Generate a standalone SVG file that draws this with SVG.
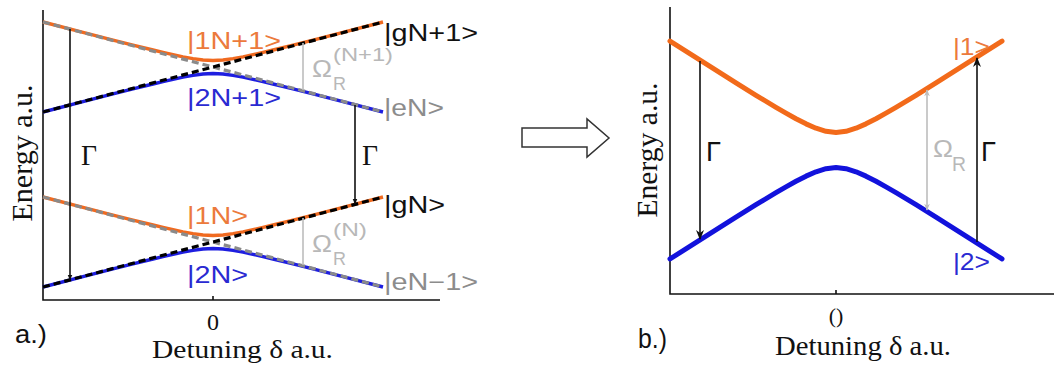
<svg xmlns="http://www.w3.org/2000/svg" xmlns:xlink="http://www.w3.org/1999/xlink" width="1054" height="367" viewBox="0 0 1054 367">
<style>
.axis{stroke:#111;stroke-width:1.6;fill:none}
.orA{stroke:#f06a20;stroke-width:3.4;fill:none;stroke-linejoin:round}
.blA{stroke:#1e1ee0;stroke-width:3.4;fill:none;stroke-linejoin:round}
.orB{stroke:#f26a1a;stroke-width:5;fill:none;stroke-linejoin:round;stroke-linecap:round}
.blB{stroke:#1212dc;stroke-width:5;fill:none;stroke-linejoin:round;stroke-linecap:round}
.dg{stroke:#8a8a8a;stroke-width:3.2;stroke-dasharray:7 4;fill:none}
.dk{stroke:#000;stroke-width:3.2;stroke-dasharray:7 4;fill:none}
.sans{font-family:"Liberation Sans",Arial,sans-serif}
.serif{font-family:"Liberation Serif","Times New Roman",serif}
.lo{fill:#ec7a3c}
.lb{fill:#2a2ad2}
.lk{fill:#111}
.lg{fill:#8c8c8c}
.lr{fill:#b8b8b8}
.gam{stroke:#111;stroke-width:1.6;fill:none}
.om{stroke:#bdbdbd;stroke-width:1.6;fill:none}
</style>
<defs>
<path id="hypA" d="M43,-44.98 L83,-34.65 L113,-26.97 L133,-21.93 L153,-17 L163,-14.62 L173,-12.33 L183,-10.19 L193,-8.35 L203,-7.01 L213,-6.5 L223,-7.01 L233,-8.35 L243,-10.19 L253,-12.33 L263,-14.62 L273,-17 L293,-21.93 L313,-26.97 L343,-34.65 L383,-44.98"/>
<path id="hypB" d="M670,-108.98 L706,-86.04 L736,-67.12 L756,-54.72 L776,-42.64 L786,-36.83 L796,-31.27 L806,-26.16 L816,-21.78 L826,-18.66 L836,-17.5 L846,-18.66 L856,-21.78 L866,-26.16 L876,-31.27 L886,-36.83 L896,-42.64 L916,-54.72 L936,-67.12 L966,-86.04 L1002,-108.98"/>
<marker id="ahK" viewBox="0 0 10 10" refX="9" refY="5" markerWidth="10" markerHeight="10" markerUnits="userSpaceOnUse" orient="auto">
<path d="M0,1 L10,5 L0,9 L3,5 Z" fill="#111"/>
</marker>
<marker id="ahS" viewBox="0 0 10 10" refX="9" refY="5" markerWidth="6" markerHeight="6" markerUnits="userSpaceOnUse" orient="auto">
<path d="M0,1 L10,5 L0,9 Z" fill="#111"/>
</marker>
<marker id="ahG" viewBox="0 0 10 10" refX="9" refY="5" markerWidth="7" markerHeight="7" markerUnits="userSpaceOnUse" orient="auto-start-reverse">
<path d="M0,1 L10,5 L0,9 L3,5 Z" fill="#bdbdbd"/>
</marker>
</defs>

<g id="panel-a-axes">
<path class="axis" d="M43,10 V300 H440"/>
<path class="axis" d="M213,300 V296"/>
<text class="serif lk" x="213" y="330" font-size="24" text-anchor="middle">0</text>
<text class="serif lk" x="152" y="358" font-size="26" textLength="181" lengthAdjust="spacingAndGlyphs">Detuning δ a.u.</text>
<text class="serif lk" font-size="30" text-anchor="middle" textLength="137" lengthAdjust="spacingAndGlyphs" transform="translate(32,153) rotate(-90)">Energy a.u.</text>
<text class="sans lk" x="15" y="343" font-size="26" textLength="32" lengthAdjust="spacingAndGlyphs">a.)</text>
</g>

<g id="panel-a-upper">
<use xlink:href="#hypA" class="orA" transform="translate(0,67)"/>
<use xlink:href="#hypA" class="blA" transform="translate(0,67) scale(1,-1)"/>
<line class="dg" x1="43" y1="22" x2="383" y2="112"/>
<line class="dk" x1="43" y1="112" x2="383" y2="22"/>
</g>
<g id="panel-a-lower">
<use xlink:href="#hypA" class="orA" transform="translate(0,242)"/>
<use xlink:href="#hypA" class="blA" transform="translate(0,242) scale(1,-1)"/>
<line class="dg" x1="43" y1="197" x2="383" y2="287"/>
<line class="dk" x1="43" y1="287" x2="383" y2="197"/>
</g>

<g id="label-1N1"><text class="sans lo" x="187" y="49" font-size="23" textLength="94" lengthAdjust="spacingAndGlyphs">|1N+1&gt;</text></g>
<g id="label-2N1"><text class="sans lb" x="187" y="106" font-size="23" textLength="94" lengthAdjust="spacingAndGlyphs">|2N+1&gt;</text></g>
<g id="label-1N"><text class="sans lo" x="187" y="224" font-size="23" textLength="61" lengthAdjust="spacingAndGlyphs">|1N&gt;</text></g>
<g id="label-2N"><text class="sans lb" x="187" y="283" font-size="23" textLength="61" lengthAdjust="spacingAndGlyphs">|2N&gt;</text></g>
<g id="label-gN1"><text class="sans lk" x="384" y="41" font-size="23" textLength="94" lengthAdjust="spacingAndGlyphs">|gN+1&gt;</text></g>
<g id="label-eN"><text class="sans lg" x="384" y="116" font-size="23" textLength="60" lengthAdjust="spacingAndGlyphs">|eN&gt;</text></g>
<g id="label-gN"><text class="sans lk" x="384" y="213" font-size="23" textLength="61" lengthAdjust="spacingAndGlyphs">|gN&gt;</text></g>
<g id="label-eN-1"><text class="sans lg" x="384" y="290" font-size="23" textLength="94" lengthAdjust="spacingAndGlyphs">|eN−1&gt;</text></g>

<g id="label-omega-N1">
<text class="sans lr" x="312" y="77" font-size="23" textLength="20" lengthAdjust="spacingAndGlyphs">Ω</text>
<text class="sans lr" x="333" y="90" font-size="19" textLength="13" lengthAdjust="spacingAndGlyphs">R</text>
<text class="sans lr" x="333" y="61" font-size="18" textLength="60" lengthAdjust="spacingAndGlyphs">(N+1)</text>
</g>
<g id="label-omega-N">
<text class="sans lr" x="312" y="252" font-size="23" textLength="20" lengthAdjust="spacingAndGlyphs">Ω</text>
<text class="sans lr" x="333" y="265" font-size="19" textLength="13" lengthAdjust="spacingAndGlyphs">R</text>
<text class="sans lr" x="333" y="236" font-size="18" textLength="34" lengthAdjust="spacingAndGlyphs">(N)</text>
</g>
<g id="label-gamma-a1"><text class="serif lk" x="81" y="165" font-size="30" textLength="16" lengthAdjust="spacingAndGlyphs">Γ</text></g>
<g id="label-gamma-a2"><text class="serif lk" x="362" y="165" font-size="30" textLength="16" lengthAdjust="spacingAndGlyphs">Γ</text></g>

<g id="arrow-between">
<polygon points="522,128 587,128 587,119 609,138 587,157 587,147 522,147" fill="#fff" stroke="#333" stroke-width="1.5" stroke-linejoin="miter"/>
</g>

<g id="panel-b-axes">
<path class="axis" d="M670,7 V294 H1054"/>
<path class="axis" d="M836,294 V290"/>
<text class="serif lk" x="836" y="323" font-size="22" text-anchor="middle">()</text>
<text class="serif lk" x="775" y="355" font-size="27" textLength="176" lengthAdjust="spacingAndGlyphs">Detuning δ a.u.</text>
<text class="serif lk" font-size="30" text-anchor="middle" textLength="135" lengthAdjust="spacingAndGlyphs" transform="translate(657,150) rotate(-90)">Energy a.u.</text>
<text class="sans lk" x="638" y="348" font-size="27" textLength="29" lengthAdjust="spacingAndGlyphs">b.)</text>
</g>
<g id="panel-b-curves">
<use xlink:href="#hypB" class="orB" transform="translate(0,150)"/>
<use xlink:href="#hypB" class="blB" transform="translate(0,150) scale(1,-1)"/>
</g>
<g id="label-1"><text class="sans lo" x="953" y="55" font-size="24" textLength="37" lengthAdjust="spacingAndGlyphs">|1&gt;</text></g>
<g id="label-2"><text class="sans lb" x="953" y="270" font-size="24" textLength="37" lengthAdjust="spacingAndGlyphs">|2&gt;</text></g>
<g id="label-gamma-b1"><text class="sans lk" x="706" y="161" font-size="28" textLength="15" lengthAdjust="spacingAndGlyphs">Γ</text></g>
<g id="label-gamma-b2"><text class="sans lk" x="981" y="161" font-size="28" textLength="15" lengthAdjust="spacingAndGlyphs">Γ</text></g>
<g id="label-omega-b">
<text class="sans lr" x="933" y="157" font-size="24" textLength="20" lengthAdjust="spacingAndGlyphs">Ω</text>
<text class="sans lr" x="952" y="171" font-size="20" textLength="14" lengthAdjust="spacingAndGlyphs">R</text>
</g>

<g id="connectors">
<line class="gam" x1="70" y1="29" x2="70" y2="280" marker-end="url(#ahS)"/>
<line class="gam" x1="355" y1="105" x2="355" y2="204" marker-end="url(#ahS)"/>
<line class="om" x1="303" y1="43" x2="303" y2="90"/>
<line class="om" x1="303" y1="218" x2="303" y2="265"/>
<line class="gam" x1="700" y1="61" x2="700" y2="239" marker-end="url(#ahK)"/>
<line class="gam" x1="977" y1="242" x2="977" y2="58" marker-end="url(#ahK)"/>
<line class="om" x1="927" y1="90" x2="927" y2="210" marker-start="url(#ahG)" marker-end="url(#ahG)"/>
</g>
</svg>
